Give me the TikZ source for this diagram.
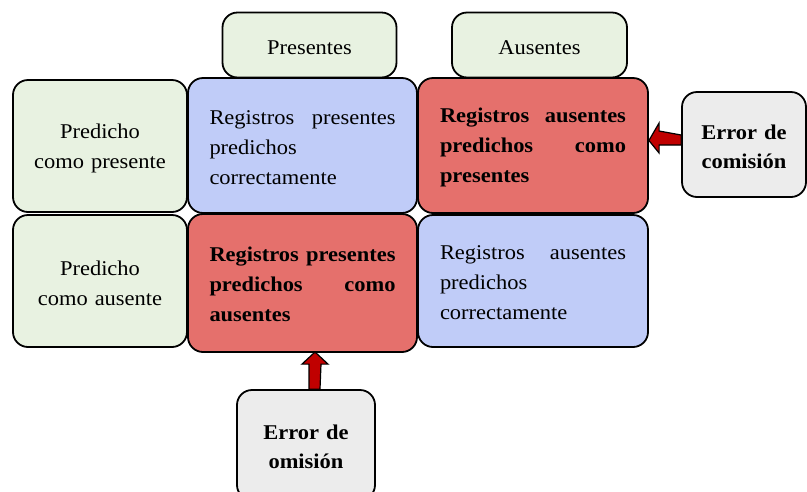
\documentclass[tikz,border=0pt]{standalone}
\usepackage{fontspec}
\setmainfont{Liberation Serif}[FakeStretch=1.07]
\usetikzlibrary{calc}
\definecolor{gfill}{RGB}{232,242,225}
\definecolor{bfill}{RGB}{192,204,248}
\definecolor{rfill}{RGB}{229,112,108}
\definecolor{efill}{RGB}{236,236,236}
\definecolor{arrred}{RGB}{192,0,0}
\tikzset{
  box/.style={draw=black, line width=1.8pt, rounded corners=15pt, inner sep=0pt,
    font=\fontsize{21}{30}\selectfont},
  gbox/.style={box, fill=gfill, text width=170pt, align=center, text height=20pt},
  bbox/.style={box, fill=bfill, text width=186pt, align=left, text height=18pt},
  rbox/.style={box, fill=rfill, text width=186pt, align=left, text height=18pt,
    font=\fontsize{21}{30}\selectfont\bfseries},
  ebox/.style={box, fill=efill, text width=120pt, align=center, text height=19pt,
    font=\fontsize{21}{29}\selectfont\bfseries},
  blockarrow/.style={draw=black, line width=1.2pt, fill=arrred, line join=miter},
}
\begin{document}
\begin{tikzpicture}[x=1pt,y=-1pt]
\useasboundingbox (0,0) rectangle (807,491);
% header boxes
\node[gbox, minimum width=174pt, minimum height=65pt] (pres) at (309.5,45) {Presentes};
\node[gbox, minimum width=175pt, minimum height=65pt] (aus) at (539.5,45) {Ausentes};
% row labels
\node[gbox, minimum width=174pt, minimum height=132pt] (pcp) at (100,146) {Predicho\\como presente};
\node[gbox, minimum width=174pt, minimum height=132pt] (pca) at (100,281) {Predicho\\como ausente};
% matrix cells
\node[bbox, minimum width=229pt, minimum height=135pt] (b1) at (302.5,145.5)
  {Registros\hfill presentes\\predichos\\correctamente};
\node[rbox, minimum width=230pt, minimum height=135pt] (r1) at (533,145.5)
  {Registros\hfill ausentes\\predichos\hfill como\\presentes};
\node[rbox, minimum width=229pt, minimum height=138pt] (r2) at (302.5,283)
  {Registros\hfill presentes\\predichos\hfill como\\ausentes};
\node[bbox, minimum width=230pt, minimum height=132pt] (b2) at (533,281)
  {Registros\hfill ausentes\\predichos\\correctamente};
% error boxes
\node[ebox, minimum width=124pt, minimum height=105pt] (com) at (744,144.5) {Error de\\comisión};
\node[ebox, minimum width=138pt, minimum height=110pt] (om) at (306,445) {Error de\\omisión};
% block arrows
\draw[blockarrow]
  ($(com.west)+(0,0.5)$) coordinate (ca) -- ++(-22,0) -- ++(0,8) -- (r1.east |- 0,140.5) coordinate (ct)
  -- ($(com.west)+(-22,-21.5)$) -- ++(0,8) -- ($(com.west)+(0,-9.5)$) -- cycle;
\draw[blockarrow]
  ($(om.north)+(3,0)$) coordinate (oa) -- ++(0,-25) -- ++(-7,0) -- (315,352) coordinate (ot)
  -- ($(om.north)+(22,-25)$) -- ++(-7,0) -- ($(om.north)+(14,0)$) -- cycle;
\end{tikzpicture}
\end{document}
